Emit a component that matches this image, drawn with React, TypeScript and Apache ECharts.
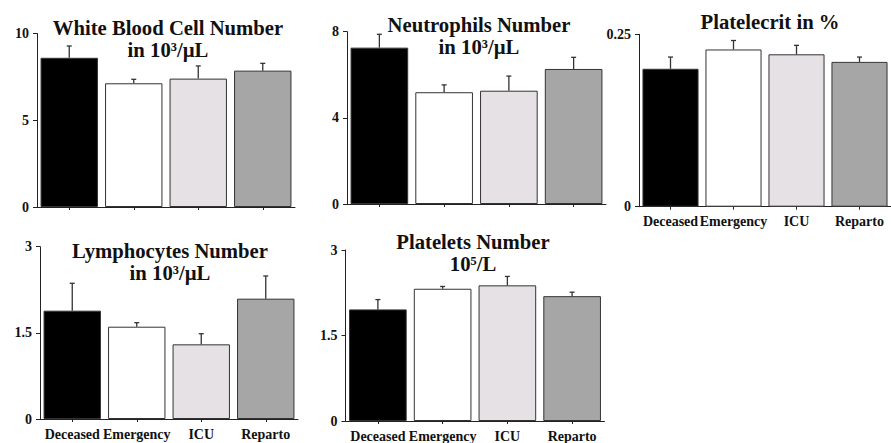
import React, { useEffect, useRef } from "react";
import * as echarts from "echarts";

const categories = ["Deceased", "Emergency", "ICU", "Reparto"];

const wbcMeans = [8.6, 7.13, 7.4, 7.86];
const wbcErrs = [0.68, 0.23, 0.73, 0.42];
const neuMeans = [7.26, 5.19, 5.26, 6.27];
const neuErrs = [0.62, 0.34, 0.68, 0.54];
const pctMeans = [0.2, 0.228, 0.221, 0.21];
const pctErrs = [0.017, 0.013, 0.013, 0.007];
const lymMeans = [1.886, 1.607, 1.3, 2.095];
const lymErrs = [0.477, 0.07, 0.185, 0.395];
const pltMeans = [1.958, 2.32, 2.38, 2.19];
const pltErrs = [0.172, 0.04, 0.156, 0.07];

const yMax = [10, 8, 0.25, 3, 3];
const yStep = [5, 4, 0.25, 1.5, 1.5];
const titles = [
  "White Blood Cell Number\nin 10³/µL",
  "Neutrophils Number\nin 10³/µL",
  "Platelecrit in %",
  "Lymphocytes Number\nin 10³/µL",
  "Platelets Number\n10⁵/L",
];
const showXLabels = [false, false, true, true, true];

const barColors = ["#000000", "#ffffff", "#e6e1e4", "#a6a6a6"];
const FONT = "Liberation Serif";

const grids = [
  { left: 37, top: 33.5, width: 258, height: 173.5 },
  { left: 347, top: 31.7, width: 259, height: 172.3 },
  { left: 639, top: 34.3, width: 259, height: 172.4 },
  { left: 40, top: 246.7, width: 258, height: 172.3 },
  { left: 345.5, top: 250, width: 259, height: 172.7 },
];
const titlePos = [
  { x: 168, y: 16.5 },
  { x: 479, y: 13.5 },
  { x: 770, y: 10.5 },
  { x: 170, y: 240 },
  { x: 473, y: 231 },
];

export default function App() {
  const ref = useRef<HTMLDivElement>(null);
  useEffect(() => {
    document.body.style.margin = "0";
    const chart = echarts.init(ref.current!, null, { renderer: "svg" });
    const means = [wbcMeans, neuMeans, pctMeans, lymMeans, pltMeans];
    const errs = [wbcErrs, neuErrs, pctErrs, lymErrs, pltErrs];

    const option: any = {
      animation: false,
      backgroundColor: "#ffffff",
      textStyle: { fontFamily: FONT },
      title: titles.map((t, i) => ({
        text: t,
        left: titlePos[i].x,
        top: titlePos[i].y,
        textAlign: "center",
        padding: 0,
        textStyle: {
          fontFamily: FONT,
          fontWeight: "bold",
          fontSize: 20.7,
          lineHeight: 22,
          color: "#111",
        },
      })),
      grid: grids.map((g) => ({ ...g, containLabel: false })),
      xAxis: grids.map((_, i) => ({
        type: "category",
        gridIndex: i,
        data: categories,
        axisLine: { show: true, lineStyle: { color: "#222", width: 1 } },
        axisTick: { show: true, alignWithLabel: true, length: 3, lineStyle: { color: "#222" } },
        axisLabel: {
          show: showXLabels[i],
          interval: 0,
          margin: 8,
          fontFamily: FONT,
          fontWeight: "bold",
          fontSize: 14,
          color: "#111",
        },
        splitLine: { show: false },
      })),
      yAxis: grids.map((_, i) => ({
        type: "value",
        gridIndex: i,
        min: 0,
        max: yMax[i],
        interval: yStep[i],
        axisLine: { show: true, lineStyle: { color: "#222", width: 1 } },
        axisTick: { show: true, length: 4, lineStyle: { color: "#222" } },
        axisLabel: {
          margin: 8,
          fontFamily: FONT,
          fontWeight: "bold",
          fontSize: 14,
          color: "#111",
        },
        splitLine: { show: false },
      })),
      series: [] as any[],
    };

    for (let i = 0; i < 5; i++) {
      option.series.push({
        type: "bar",
        xAxisIndex: i,
        yAxisIndex: i,
        barCategoryGap: "11%",
        data: means[i].map((v, k) => ({
          value: v,
          itemStyle: { color: barColors[k], borderColor: "#333", borderWidth: 1 },
        })),
      });
      option.series.push({
        type: "custom",
        xAxisIndex: i,
        yAxisIndex: i,
        z: 10,
        data: means[i].map((v, k) => [k, v, v + errs[i][k]]),
        renderItem: (params: any, api: any) => {
          const p0 = api.coord([api.value(0), api.value(1)]);
          const p1 = api.coord([api.value(0), api.value(2)]);
          const st = { stroke: "#333", lineWidth: 1.3 };
          return {
            type: "group",
            children: [
              { type: "line", shape: { x1: p0[0], y1: p0[1], x2: p1[0], y2: p1[1] }, style: st },
              { type: "line", shape: { x1: p1[0] - 2.5, y1: p1[1], x2: p1[0] + 2.5, y2: p1[1] }, style: st },
            ],
          };
        },
      });
    }

    chart.setOption(option);
    return () => chart.dispose();
  }, []);
  return <div ref={ref} style={{ width: 891, height: 443 }} />;
}
